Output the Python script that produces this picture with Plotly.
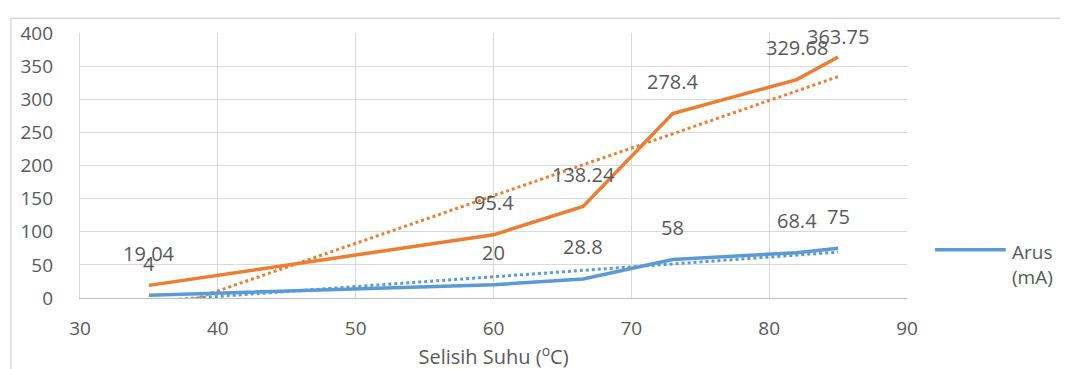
import numpy as np
import plotly.graph_objects as go

# ---- data ----
selisih_suhu = [35, 60, 66.5, 73, 82, 85]
arus_ma = [4, 20, 28.8, 58, 68.4, 75]
daya = [19.04, 95.4, 138.24, 278.4, 329.68, 363.75]
arus_labels = ["4", "20", "28.8", "58", "68.4", "75"]
daya_labels = ["19.04", "95.4", "138.24", "278.4", "329.68", "363.75"]
x_ticks = [30, 40, 50, 60, 70, 80, 90]
y_ticks = [0, 50, 100, 150, 200, 250, 300, 350, 400]

BLUE = "#5B9BD5"
ORANGE = "#ED7D31"
TXT = "#595959"
GRID = "#D9D9D9"
FONT = "Open Sans"

# page body has an 8px margin; compensate so the plot area sits where the reference has it
OFF = 8
L, T, PW, PH = 78 - OFF, 24 - OFF, 829, 274
W, H = 1068, 369

def px(xpix):  # reference screen pixel -> paper x
    return (xpix - 78) / PW

def py(ypix):  # reference screen pixel -> paper y
    return (298 - ypix) / PH

# linear trendlines (Excel-style least squares)
xs = np.array(selisih_suhu, dtype=float)
xt = np.array([xs.min(), xs.max()])
pb = np.polyfit(xs, np.array(arus_ma), 1)
po = np.polyfit(xs, np.array(daya), 1)

fig = go.Figure()
fig.add_trace(go.Scatter(x=xt, y=np.polyval(po, xt), mode="lines",
                         line=dict(color=ORANGE, width=3, dash="dot"), showlegend=False))
fig.add_trace(go.Scatter(x=xt, y=np.polyval(pb, xt), mode="lines",
                         line=dict(color=BLUE, width=3, dash="dot"), showlegend=False))
fig.add_trace(go.Scatter(x=selisih_suhu, y=daya, mode="lines",
                         line=dict(color=ORANGE, width=3.5), showlegend=False))
fig.add_trace(go.Scatter(x=selisih_suhu, y=arus_ma, mode="lines", name="Arus (mA)",
                         line=dict(color=BLUE, width=3.5), showlegend=False))

# data labels
def add_labels(xv, yv, labels, shifts):
    for x, y, t, s in zip(xv, yv, labels, shifts):
        fig.add_annotation(x=x, y=y, text=t, showarrow=False, yshift=s,
                           font=dict(family=FONT, size=20, color=TXT))

add_labels(selisih_suhu, arus_ma, arus_labels, [32] * 6)
add_labels(selisih_suhu, daya, daya_labels, [32, 32, 32, 32, 32, 21])

# manual legend (Excel-style long line sample)
fig.add_shape(type="line", xref="paper", yref="paper",
              x0=px(935), x1=px(1006), y0=py(248), y1=py(248),
              line=dict(color=BLUE, width=3.5))
fig.add_annotation(xref="paper", yref="paper", x=px(1010), y=py(263),
                   xanchor="left", yanchor="middle", align="left", showarrow=False,
                   text="Arus<br>(mA)", font=dict(family=FONT, size=19, color=TXT))

# chart border (starts at the figure's own top-left corner)
fig.add_shape(type="rect", xref="paper", yref="paper",
              x0=(0.75 - L) / PW, x1=1.3, y0=-0.5, y1=1 + (T - 0.75) / PH,
              line=dict(color="#D9D9D9", width=1.5), fillcolor="rgba(0,0,0,0)", layer="below")

fig.update_xaxes(range=[30, 90], tickvals=x_ticks, showgrid=True, gridcolor=GRID, gridwidth=1.3,
                 showline=True, linecolor="#BFBFBF", linewidth=1.3, zeroline=False,
                 ticks="", ticklabelstandoff=13,
                 tickfont=dict(family=FONT, size=19, color=TXT),
                 title=dict(text="Selisih Suhu (<sup>o</sup>C)", standoff=0,
                            font=dict(family=FONT, size=20, color=TXT)))
fig.update_yaxes(range=[0, 400], tickvals=y_ticks, showgrid=True, gridcolor=GRID, gridwidth=1.3,
                 showline=True, linecolor=GRID, linewidth=1.3, zeroline=False,
                 ticks="", ticklabelstandoff=22,
                 tickfont=dict(family=FONT, size=19, color=TXT))

fig.update_layout(width=W, height=H,
                  margin=dict(l=L, r=W - L - PW, t=T, b=H - T - PH),
                  plot_bgcolor="white", paper_bgcolor="white", showlegend=False)

fig.write_html("out.html")
